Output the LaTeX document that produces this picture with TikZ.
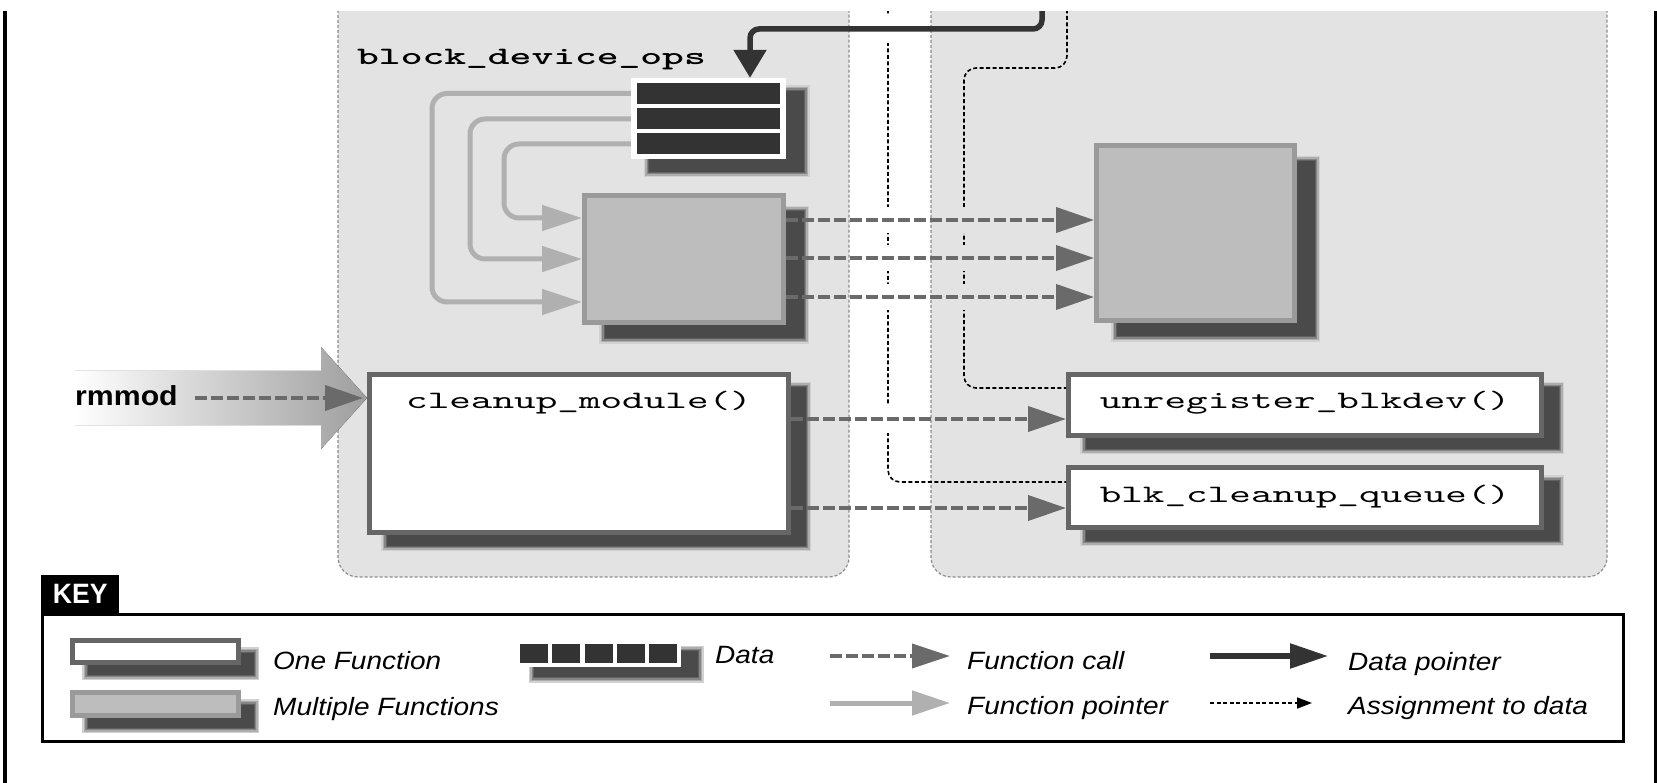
\documentclass[tikz,border=0pt]{standalone}
\usepackage{fontspec}
\usetikzlibrary{arrows.meta}
\newfontfamily\lblfont[FakeStretch=1.12]{Liberation Sans}
\newfontfamily\rmmodfont[FakeStretch=1.1]{Liberation Sans}
\newfontfamily\keyfont[FakeStretch=0.95]{Liberation Sans}
\newfontfamily\codefont[FakeStretch=1.646]{lmmono10-regular.otf}
\newfontfamily\codebfont[FakeStretch=1.66]{lmmonolt10-bold.otf}
\definecolor{panelbg}{HTML}{E3E3E3}
\definecolor{panelln}{HTML}{8C8C8C}
\definecolor{callc}{HTML}{6A6A6A}
\definecolor{ptrc}{HTML}{B0B0B0}
\definecolor{datac}{HTML}{333333}
\definecolor{onefb}{HTML}{666666}
\definecolor{multb}{HTML}{9A9A9A}
\definecolor{multf}{HTML}{BDBDBD}
\begin{document}
\begin{tikzpicture}[x=1pt,y=-1pt,
  shad/.style 2 args={
    preaction={fill=black!18, draw=black!18, line width=11pt, transform canvas={xshift=#1pt, yshift=-#2pt}},
    preaction={fill=black!32, draw=black!32, line width=8pt, transform canvas={xshift=#1pt, yshift=-#2pt}},
    preaction={fill=black!48, draw=black!48, line width=5pt, transform canvas={xshift=#1pt, yshift=-#2pt}},
    preaction={fill=black!62, draw=black!62, line width=2pt, transform canvas={xshift=#1pt, yshift=-#2pt}},
    preaction={fill=black!71, transform canvas={xshift=#1pt, yshift=-#2pt}}},
  panel/.style={fill=panelbg, draw=panelln, line width=1.2pt, dash pattern=on 3pt off 2pt, rounded corners=20pt},
  onefn/.style={draw=onefb, line width=5pt, fill=white, inner sep=0pt},
  multfn/.style={draw=multb, line width=5pt, fill=multf, inner sep=0pt},
  databar/.style={fill=datac, inner sep=0pt, minimum width=143pt, minimum height=21pt},
  datasq/.style={fill=datac, inner sep=0pt, minimum width=28pt, minimum height=19pt},
  fcall/.style={draw=callc, line width=4pt, dash pattern=on 12pt off 4pt, -{Triangle[length=38pt,width=25pt]}},
  fptr/.style={draw=ptrc, line width=5pt, rounded corners=15pt, -{Triangle[length=40pt,width=25pt]}},
  dptr/.style={draw=datac, line width=5.5pt, rounded corners=9pt, -{Triangle[length=28pt,width=32pt]}},
  assign/.style={draw=black, line width=1.6pt, dash pattern=on 4pt off 2.5pt, rounded corners=12pt},
  code/.style={font=\codefont\fontsize{25}{25}\selectfont},
  lgtext/.style={anchor=base west, inner sep=0pt, font=\lblfont\itshape\fontsize{25}{25}\selectfont}
]
\useasboundingbox (0,0) rectangle (1657,783);
\begin{scope}
\clip (0,12) rectangle (1657,783);
% panels
\draw[panel] (338,-40) rectangle (849,577);
\draw[panel] (931,-40) rectangle (1607,577);
% side rules
\draw[line width=4pt] (5,0) -- (5,783);
\draw[line width=3pt] (1655,0) -- (1655,783);
% free ends
\coordinate (dsrc) at (1042,-10);
\coordinate (asrcA) at (1067,-10);
\coordinate (asrcB) at (888,-10);
% big gradient arrow for rmmod
\fill[left color=white, right color=black!38] (75,371) -- (321,371) -- (321,347) -- (367,398) -- (321,449) -- (321,425) -- (75,425) -- cycle;
% boxes
\node[fill=white, inner sep=0pt, minimum width=155pt, minimum height=81pt, shad={18}{13}] (ops) at (708.5,118.5) {};
\node[databar] (bar1) at (708.5,93.5) {};
\node[databar] (bar2) at (708.5,119) {};
\node[databar] (bar3) at (708.5,144) {};
\node[multfn, shad={20}{16}, minimum width=199pt, minimum height=127pt] (funcs) at (684,259) {};
\node[multfn, shad={20}{16}, minimum width=198pt, minimum height=175pt] (kfuncs) at (1195.5,233) {};
\node[onefn, shad={17}{13}, code, anchor=base, minimum width=419pt, text height=33.5pt, text depth=124.5pt] (cleanup) at (579,408) {cleanup\_module()};
\node[onefn, shad={17}{13}, code, anchor=base, minimum width=473pt, text height=33.5pt, text depth=27.5pt] (unreg) at (1305,408) {unregister\_blkdev()};
\node[onefn, shad={17}{13}, code, anchor=base, minimum width=473pt, text height=34.5pt, text depth=25.5pt] (blk) at (1305,502) {blk\_cleanup\_queue()};
% assignment lines
\draw[assign] (asrcA) |- (964,68) |- (unreg.west |- 0,388);
\draw[assign] (asrcB) |- (blk.west |- 0,482);
% gaps at crossings
\fill[white] (884,15) rectangle (892,43);
\fill[white] (884,207) rectangle (892,233);
\fill[white] (884,245) rectangle (892,271);
\fill[white] (884,284) rectangle (892,310);
\fill[white] (884,405) rectangle (892,433);
\fill[panelbg] (960,207) rectangle (968,233);
\fill[panelbg] (960,245) rectangle (968,271);
\fill[panelbg] (960,284) rectangle (968,310);
% function pointers
\draw[fptr] (bar1.west -| ops.west) -| (432,302) -- (funcs.west |- 0,302);
\draw[fptr] (bar2.west -| ops.west) -| (470,259) -- (funcs.west |- 0,259);
\draw[fptr] (bar3.west -| ops.west) -| (504,218) -- (funcs.west |- 0,218);
% function calls
\draw[fcall] (funcs.east |- 0,220) -- (kfuncs.west |- 0,220);
\draw[fcall] (funcs.east |- 0,258) -- (kfuncs.west |- 0,258);
\draw[fcall] (funcs.east |- 0,297) -- (kfuncs.west |- 0,297);
\draw[fcall] (cleanup.east |- 0,419) -- (unreg.west |- 0,419);
\draw[fcall] (cleanup.east |- 0,508) -- (blk.west |- 0,508);
% data pointer
\draw[dptr] (dsrc) |- (750,29) -- (ops.north -| 750,0);
% labels
\node[anchor=base west, inner sep=0pt, font=\codebfont\fontsize{25}{25}\selectfont] (opslbl) at (357,65) {block\_device\_ops};
\node[anchor=base west, inner sep=0pt, font=\rmmodfont\bfseries\fontsize{27.5}{27.5}\selectfont] (rmmod) at (75,406) {rmmod};
\coordinate (rmstart) at ([xshift=17pt]rmmod.east);
\draw[fcall, shorten >=4pt] (rmstart |- 0,398) -- (cleanup.west |- 0,398);
% key
\node[draw=black, line width=3pt, inner sep=0pt, minimum width=1581pt, minimum height=127pt] (keybox) at (833,678) {};
\node[fill=black, text=white, inner sep=0pt, minimum width=78pt, minimum height=38pt, anchor=north west, font=\keyfont\bfseries\fontsize{28}{28}\selectfont] (keylbl) at (41,575) {KEY};
\node[onefn, shad={15}{12}, minimum width=166pt, minimum height=22pt] (lgone) at (155.5,651.5) {};
\node[multfn, shad={15}{12}, minimum width=166pt, minimum height=23pt] (lgmult) at (155.5,704) {};
\node[fill=white, inner sep=0pt, minimum width=164pt, minimum height=26pt, shad={17}{10}] (lgdata) at (599,654) {};
\node[datasq] (sq1) at (534,653.5) {};
\node[datasq] (sq2) at (566.25,653.5) {};
\node[datasq] (sq3) at (598.5,653.5) {};
\node[datasq] (sq4) at (630.75,653.5) {};
\node[datasq] (sq5) at (663,653.5) {};
\coordinate (fca) at (830,656); \coordinate (fcb) at (950,656);
\coordinate (fpa) at (830,703); \coordinate (fpb) at (950,703);
\coordinate (dpa) at (1210,656); \coordinate (dpb) at (1328,656);
\coordinate (asa) at (1210,703); \coordinate (asb) at (1312,703);
\draw[fcall, -{Triangle[length=38pt,width=24pt]}] (fca) -- (fcb);
\draw[fptr, -{Triangle[length=38pt,width=24pt]}] (fpa) -- (fpb);
\draw[dptr, -{Triangle[length=38pt,width=24pt]}] (dpa) -- (dpb);
\draw[assign, -{Triangle[length=15pt,width=11pt]}] (asa) -- (asb);
\node[lgtext] (t1) at (273,669) {One Function};
\node[lgtext] (t2) at (273,715) {Multiple Functions};
\node[lgtext] (t3) at (715,663) {Data};
\node[lgtext] (t4) at (967,669) {Function call};
\node[lgtext] (t5) at (967,714) {Function pointer};
\node[lgtext] (t6) at (1348,670) {Data pointer};
\node[lgtext] (t7) at (1348,714) {Assignment to data};
\end{scope}
\end{tikzpicture}
\end{document}
